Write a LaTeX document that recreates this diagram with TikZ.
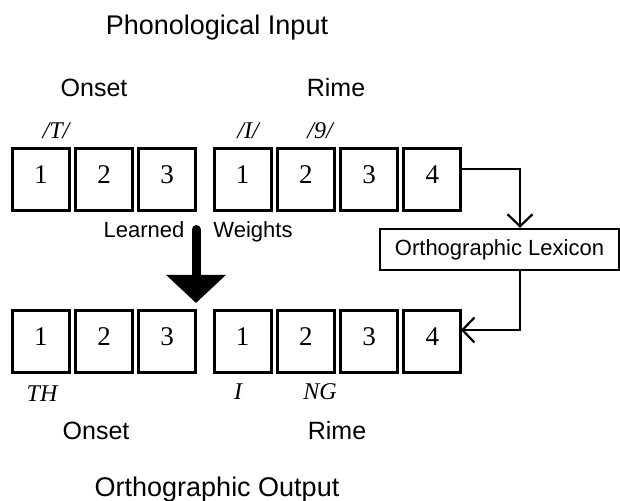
\documentclass[tikz,border=0pt]{standalone}
\usepackage{fontspec}
\setmainfont{Liberation Serif}
\setsansfont{Liberation Sans}
\usetikzlibrary{
    matrix,         % tikz's library for the rows of slots
    arrows.meta,    % tikz's library of barb and triangle tips
    positioning     % tikz's library for relative placement
}
\newcommand{\unit}{0.5pt}
\tikzset{
    slot node/.style={draw, rectangle, line width=1.5pt, inner sep=0pt, outer sep=0pt,
        minimum width=28.6pt, minimum height=31pt, text depth=5pt,
        font=\fontsize{13.5}{15}\selectfont},
    slot row/.style={matrix of nodes, nodes={slot node}, column sep=1.5pt},
    title label/.style={anchor=base, font=\sffamily\fontsize{13.5}{16}\selectfont},
    part label/.style={anchor=base, font=\sffamily\fontsize{12.5}{15}\selectfont},
    small label/.style={anchor=base, font=\sffamily\fontsize{11}{13}\selectfont},
    phon label/.style={anchor=base, font=\itshape\fontsize{12}{14}\selectfont},
    lexicon node/.style={draw, line width=1.2pt, inner sep=0pt,
        minimum width=119.5pt, minimum height=20.5pt,
        font=\sffamily\fontsize{11}{13}\selectfont},
    link arrow/.style={line width=1.1pt, -{Straight Barb[length=6pt, width=12.5pt]}},
    weight arrow/.style={line width=4.5pt, line cap=round, -{Triangle[length=14pt, width=29pt]}}
}

\begin{document}
\begin{tikzpicture}[x=\unit, y=-\unit]
        \useasboundingbox (0,0) rectangle (620,501);

        % phonological input
        \node[title label] (phonTitle) at (217,35) {Phonological Input};
        \node[part label] (onsetInLabel) at (94,97) {Onset};
        \node[part label] (rimeInLabel) at (336,97) {Rime};
        \node[phon label] (phonT) at (56,139) {/T/};
        \node[phon label] (phonI) at (248,139) {/I/};
        \node[phon label] (phonNG) at (320,139) {/9/};

        % input slots
        \matrix (onsetIn) [slot row] at (104,179.5) {
            1 & 2 & 3 \\
        };
        \matrix (rimeIn) [slot row] at (337.5,179.5) {
            1 & 2 & 3 & 4 \\
        };

        % learned weights
        \node[small label] (learned) at (144,238) {Learned};
        \node[small label] (weights) at (253,238) {Weights};
        \coordinate (weightTop) at (196,229.5);
        \coordinate (weightTip) at (196,303);
        \draw[weight arrow] (weightTop) -- (weightTip);

        % orthographic lexicon
        \node[lexicon node] (lexicon) at (499.5,249.5) {Orthographic Lexicon};

        % output slots
        \matrix (onsetOut) [slot row] at (104,341.5) {
            1 & 2 & 3 \\
        };
        \matrix (rimeOut) [slot row] at (337.5,341.5) {
            1 & 2 & 3 & 4 \\
        };

        % orthographic output
        \node[phon label] (orthTH) at (42,401) {TH};
        \node[phon label] (orthI) at (238,400) {I};
        \node[phon label] (orthNG) at (320,400) {NG};
        \node[part label] (onsetOutLabel) at (96,439) {Onset};
        \node[part label] (rimeOutLabel) at (337,439) {Rime};
        \node[title label] (orthTitle) at (217,496) {Orthographic Output};

        % connecting arrows
        \draw[link arrow] ([yshift=5.25pt]rimeIn-1-4.east) -| ([xshift=10.25pt]lexicon.north);
        \draw[link arrow] ([xshift=10.25pt]lexicon.south) |- ([yshift=5.75pt]rimeOut-1-4.east);
\end{tikzpicture}
\end{document}
